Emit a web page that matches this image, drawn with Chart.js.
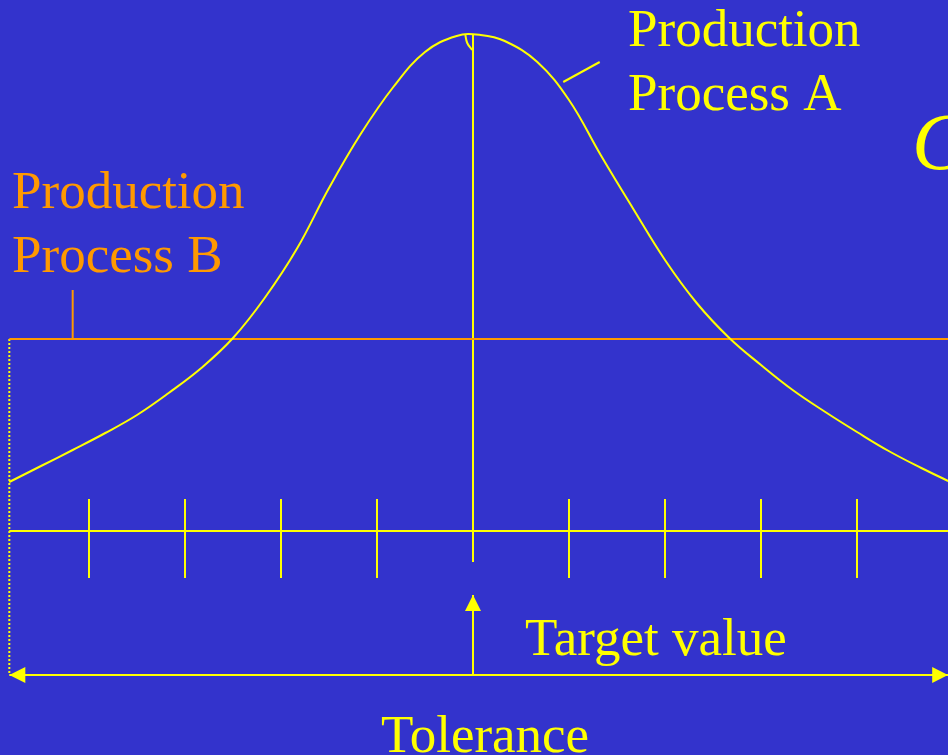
<!DOCTYPE html>
<html>
<head>
<meta charset="utf-8">
<script src="https://cdn.jsdelivr.net/npm/chart.js@4.4.0/dist/chart.umd.min.js"></script>
<style>
  html, body { margin: 0; padding: 0; background: #3333CC; overflow: hidden; }
  #wrap { position: relative; width: 948px; height: 755px; }
</style>
</head>
<body>
<div id="wrap"><canvas id="chart" width="948" height="755"></canvas></div>
<script>
// x: distance from target value in tick units, y: height above the measuring axis
const curveAX = [-4.83, -4.50, -4.17, -3.83, -3.50, -3.17, -2.83, -2.50, -2.17, -1.83, -1.50, -1.17, -0.83, -0.50, -0.17, 0.08,
                 0.33, 0.67, 1.00, 1.33, 1.67, 2.00, 2.33, 2.67, 3.00, 3.33, 3.67, 4.00, 4.33, 4.67, 4.95];
const curveAY = [0.49, 0.65, 0.81, 0.98, 1.16, 1.38, 1.63, 1.93, 2.33, 2.83, 3.43, 3.97, 4.44, 4.79, 4.95, 4.96,
                 4.90, 4.69, 4.31, 3.76, 3.22, 2.71, 2.28, 1.93, 1.66, 1.41, 1.19, 0.99, 0.80, 0.63, 0.50];
const peakCurlX = [-0.08, -0.06, -0.01];
const peakCurlY = [4.96, 4.88, 4.81];
const processBLevel = 1.92;
const toleranceRange = [-4.83, 4.95];
const tickValues = [-4, -3, -2, -1, 1, 2, 3, 4];
const tickSpan = [0.32, -0.47];
const targetLineSpan = [4.96, -0.31];
const targetArrowSpan = [-1.44, -0.64];
const toleranceLevel = -1.44;
const labelBMarker = { x: -4.17, y: [1.92, 2.41] };
const labelAMarker = { x: [0.94, 1.32], y: [4.49, 4.69] };

const labelTexts = ['Production', 'Process A', 'Production', 'Process B', 'Target value', 'Tolerance', 'C'];

const YELLOW = '#FFFF00';
const ORANGE = '#FF9900';
const BG = '#3333CC';

const pts = (xs, ys) => xs.map((x, i) => ({ x: x, y: ys[i] }));
const seg = (data, color, extra) => Object.assign({
    data: data, showLine: true, borderColor: color, borderWidth: 2,
    pointRadius: 0, fill: false, tension: 0
}, extra || {});

const datasets = [];
datasets.push(seg(pts(curveAX, curveAY), YELLOW, { tension: 0.4 }));
datasets.push(seg(pts(peakCurlX, peakCurlY), YELLOW, { tension: 0.4 }));
datasets.push(seg([{ x: toleranceRange[0], y: processBLevel }, { x: toleranceRange[1], y: processBLevel }], ORANGE));
datasets.push(seg([{ x: labelBMarker.x, y: labelBMarker.y[0] }, { x: labelBMarker.x, y: labelBMarker.y[1] }], ORANGE));
datasets.push(seg([{ x: labelAMarker.x[0], y: labelAMarker.y[0] }, { x: labelAMarker.x[1], y: labelAMarker.y[1] }], YELLOW));
// dotted left boundary
datasets.push(seg([{ x: toleranceRange[0], y: processBLevel }, { x: toleranceRange[0], y: toleranceLevel }], YELLOW, { borderDash: [2, 2] }));
// axis
datasets.push(seg([{ x: toleranceRange[0], y: 0 }, { x: toleranceRange[1], y: 0 }], YELLOW));
tickValues.forEach(t => {
    datasets.push(seg([{ x: t, y: tickSpan[0] }, { x: t, y: tickSpan[1] }], YELLOW));
});
datasets.push(seg([{ x: 0, y: targetLineSpan[0] }, { x: 0, y: targetLineSpan[1] }], YELLOW));
// target arrow and tolerance arrow
datasets.push(seg([{ x: 0, y: targetArrowSpan[0] }, { x: 0, y: targetArrowSpan[1] }], YELLOW, { arrows: ['end'] }));
datasets.push(seg([{ x: toleranceRange[0], y: toleranceLevel }, { x: toleranceRange[1], y: toleranceLevel }], YELLOW, { arrows: ['start', 'end'] }));

const bgPlugin = {
    id: 'bg',
    beforeDraw(chart) {
        const ctx = chart.ctx;
        ctx.save();
        ctx.fillStyle = BG;
        ctx.fillRect(0, 0, chart.width, chart.height);
        ctx.restore();
    }
};

const arrowPlugin = {
    id: 'arrowHeads',
    afterDatasetsDraw(chart) {
        const ctx = chart.ctx;
        chart.data.datasets.forEach((ds, i) => {
            if (!ds.arrows) return;
            const d = chart.getDatasetMeta(i).data;
            ds.arrows.forEach(end => {
                const tip = end === 'end' ? d[d.length - 1] : d[0];
                const from = end === 'end' ? d[d.length - 2] : d[1];
                const ang = Math.atan2(tip.y - from.y, tip.x - from.x);
                const len = 16, half = 8;
                ctx.save();
                ctx.fillStyle = ds.borderColor;
                ctx.translate(tip.x, tip.y);
                ctx.rotate(ang);
                ctx.beginPath();
                ctx.moveTo(0, 0);
                ctx.lineTo(-len, -half);
                ctx.lineTo(-len, half);
                ctx.closePath();
                ctx.fill();
                ctx.restore();
            });
        });
    }
};

const labelPlugin = {
    id: 'labels',
    afterDraw(chart, args, opts) {
        const ctx = chart.ctx;
        opts.items.forEach((it, i) => {
            ctx.save();
            ctx.font = it.font;
            ctx.fillStyle = it.color;
            ctx.textBaseline = 'alphabetic';
            ctx.textAlign = 'left';
            ctx.fillText(labelTexts[i], it.x, it.y);
            ctx.restore();
        });
    }
};

const serif = '"Liberation Serif", "Times New Roman", serif';

new Chart(document.getElementById('chart'), {
    type: 'scatter',
    data: { datasets: datasets },
    options: {
        responsive: false,
        animation: false,
        devicePixelRatio: 1,
        layout: { padding: 0 },
        scales: {
            x: { type: 'linear', display: false, min: -473 / 96, max: 475 / 96 },
            y: { type: 'linear', display: false, min: -2.24, max: 5.31 }
        },
        plugins: {
            legend: { display: false },
            tooltip: { enabled: false },
            labels: {
                items: [
                    { x: 628, y: 46, color: YELLOW, font: '53px ' + serif },
                    { x: 628, y: 110, color: YELLOW, font: '53px ' + serif },
                    { x: 12, y: 208, color: ORANGE, font: '53px ' + serif },
                    { x: 12, y: 272, color: ORANGE, font: '53px ' + serif },
                    { x: 525, y: 655, color: YELLOW, font: '53px ' + serif },
                    { x: 381, y: 752, color: YELLOW, font: '53px ' + serif },
                    { x: 912, y: 169, color: YELLOW, font: 'italic 80px ' + serif }
                ]
            }
        }
    },
    plugins: [bgPlugin, arrowPlugin, labelPlugin]
});
</script>
</body>
</html>
